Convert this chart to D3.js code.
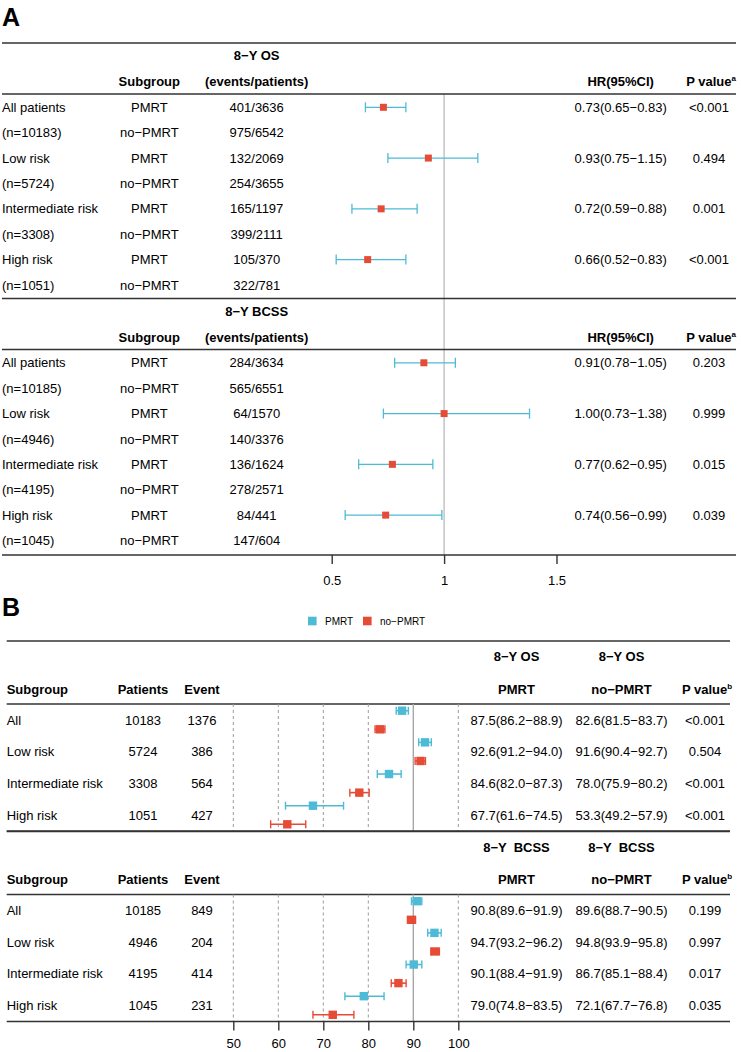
<!DOCTYPE html>
<head>
    <script src="https://cdn.jsdelivr.net/npm/d3@7"></script>
    <style>
        body { margin: 0; background: #fff; }
        text { font-family: "Liberation Sans", Arial, sans-serif; font-size: 13px; fill: #000; }
        .hd { font-weight: bold; }
        .rule { stroke: #333; stroke-width: 1.6; }
        .axis text { font-size: 13px; }
        .axis line { stroke: #333; stroke-width: 1.4; }
    </style>
</head>
<body>
<div id="chart"></div>
<script type="text/javascript">
    // ---- data: panel A (hazard ratios) ----
    var arms = ["PMRT", "no\u2212PMRT"];

    var osNames = ["All patients", "(n=10183)", "Low risk", "(n=5724)", "Intermediate risk", "(n=3308)", "High risk", "(n=1051)"];
    var osEvents = ["401/3636", "975/6542", "132/2069", "254/3655", "165/1197", "399/2111", "105/370", "322/781"];
    var osHR = [0.73, 0.93, 0.72, 0.66];
    var osLo = [0.65, 0.75, 0.59, 0.52];
    var osHi = [0.83, 1.15, 0.88, 0.83];
    var osP = ["<0.001", "0.494", "0.001", "<0.001"];

    var bcNames = ["All patients", "(n=10185)", "Low risk", "(n=4946)", "Intermediate risk", "(n=4195)", "High risk", "(n=1045)"];
    var bcEvents = ["284/3634", "565/6551", "64/1570", "140/3376", "136/1624", "278/2571", "84/441", "147/604"];
    var bcHR = [0.91, 1.00, 0.77, 0.74];
    var bcLo = [0.78, 0.73, 0.62, 0.56];
    var bcHi = [1.05, 1.38, 0.95, 0.99];
    var bcP = ["0.203", "0.999", "0.015", "0.039"];

    var hrTicks = [0.5, 1, 1.5];

    // ---- data: panel B (8-year rates) ----
    var bGroups = ["All", "Low risk", "Intermediate risk", "High risk"];

    var bOsPatients = ["10183", "5724", "3308", "1051"];
    var bOsEvents = ["1376", "386", "564", "427"];
    var bOsPm = [87.5, 92.6, 84.6, 67.7];
    var bOsPmLo = [86.2, 91.2, 82.0, 61.6];
    var bOsPmHi = [88.9, 94.0, 87.3, 74.5];
    var bOsNo = [82.6, 91.6, 78.0, 62.0];      // high risk point as drawn
    var bOsNoLo = [81.5, 90.4, 75.9, 58.3];
    var bOsNoHi = [83.7, 92.7, 80.2, 66.1];
    var bOsPmText = ["87.5(86.2\u221288.9)", "92.6(91.2\u221294.0)", "84.6(82.0\u221287.3)", "67.7(61.6\u221274.5)"];
    var bOsNoText = ["82.6(81.5\u221283.7)", "91.6(90.4\u221292.7)", "78.0(75.9\u221280.2)", "53.3(49.2\u221257.9)"];
    var bOsP = ["<0.001", "0.504", "<0.001", "<0.001"];

    var bBcPatients = ["10185", "4946", "4195", "1045"];
    var bBcEvents = ["849", "204", "414", "231"];
    var bBcPm = [90.8, 94.7, 90.1, 79.0];
    var bBcPmLo = [89.6, 93.2, 88.4, 74.8];
    var bBcPmHi = [91.9, 96.2, 91.9, 83.5];
    var bBcNo = [89.6, 94.8, 86.7, 72.1];
    var bBcNoLo = [88.7, 93.9, 85.1, 67.7];
    var bBcNoHi = [90.5, 95.8, 88.4, 76.8];
    var bBcPmText = ["90.8(89.6\u221291.9)", "94.7(93.2\u221296.2)", "90.1(88.4\u221291.9)", "79.0(74.8\u221283.5)"];
    var bBcNoText = ["89.6(88.7\u221290.5)", "94.8(93.9\u221295.8)", "86.7(85.1\u221288.4)", "72.1(67.7\u221276.8)"];
    var bBcP = ["0.199", "0.997", "0.017", "0.035"];

    var rateTicks = [50, 60, 70, 80, 90, 100];

    var blue = "#4DBBD5", red = "#E64B35";

    var svg = d3.select("#chart").append("svg")
        .attr("width", 741)
        .attr("height", 1052);

    function txt(g, x, y, s, anchor, cls) {
        return g.append("text")
            .attr("x", x).attr("y", y).attr("dy", "0.35em")
            .attr("text-anchor", anchor || "middle")
            .attr("class", cls || null)
            .style("white-space", "pre")
            .text(s);
    }

    function hline(g, x1, x2, y) {
        g.append("line").attr("class", "rule")
            .attr("x1", x1).attr("x2", x2).attr("y1", y).attr("y2", y);
    }

    function pvalHeader(g, x, y, sup) {
        var t = g.append("text").attr("x", x).attr("y", y).attr("dy", "0.35em")
            .attr("text-anchor", "middle").attr("class", "hd");
        t.append("tspan").text("P value");
        t.append("tspan").attr("dy", -5).style("font-size", "8px").text(sup);
    }

    // ================= Panel A =================
    var xA = d3.scaleLinear().domain([0.5, 1.5]).range([331.7, 556.5]);
    var gA = svg.append("g");

    gA.append("text").attr("x", 2).attr("y", 26)
        .style("font-size", "25px").style("font-weight", "bold").text("A");

    // reference line at HR = 1
    gA.append("line")
        .attr("x1", xA(1)).attr("x2", xA(1))
        .attr("y1", 94).attr("y2", 555)
        .attr("stroke", "#c8c8c8").attr("stroke-width", 1.6);

    function drawHR(top, title, names, events, hr, lo, hi, pv) {
        var g = gA.append("g");
        var y = d3.scaleLinear().domain([0, 7]).range([top + 64.3, top + 242]);
        hline(g, 2, 736, top);
        txt(g, 256.7, top + 12.7, title, "middle", "hd");
        txt(g, 149.3, top + 38.7, "Subgroup", "middle", "hd");
        txt(g, 256.7, top + 38.7, "(events/patients)", "middle", "hd");
        txt(g, 620.7, top + 38.7, "HR(95%CI)", "middle", "hd");
        pvalHeader(g, 711, top + 38.7, "a");
        hline(g, 2, 736, top + 51);

        names.forEach(function (d, i) {
            txt(g, 2, y(i), d, "start");
            txt(g, 149.3, y(i), arms[i % 2]);
            txt(g, 256.7, y(i), events[i]);
        });

        var rows = hr.map(function (d, i) {
            return {hr: d, lo: lo[i], hi: hi[i], p: pv[i], yy: y(i * 2)};
        });
        var r = g.selectAll("g.hr").data(rows).enter().append("g").attr("class", "hr");
        r.append("line")
            .attr("x1", function (d) { return xA(d.lo); })
            .attr("x2", function (d) { return xA(d.hi); })
            .attr("y1", function (d) { return d.yy; })
            .attr("y2", function (d) { return d.yy; })
            .attr("stroke", blue).attr("stroke-width", 1.3);
        ["lo", "hi"].forEach(function (k) {
            r.append("line")
                .attr("x1", function (d) { return xA(d[k]); })
                .attr("x2", function (d) { return xA(d[k]); })
                .attr("y1", function (d) { return d.yy - 5; })
                .attr("y2", function (d) { return d.yy + 5; })
                .attr("stroke", blue).attr("stroke-width", 1.3);
        });
        r.append("rect")
            .attr("x", function (d) { return xA(d.hr) - 3.5; })
            .attr("y", function (d) { return d.yy - 3.5; })
            .attr("width", 7).attr("height", 7)
            .attr("fill", red);
        r.append("text")
            .attr("x", 620.7).attr("dy", "0.35em").attr("text-anchor", "middle")
            .attr("y", function (d) { return d.yy; })
            .text(function (d) {
                return d.hr.toFixed(2) + "(" + d.lo.toFixed(2) + "\u2212" + d.hi.toFixed(2) + ")";
            });
        r.append("text")
            .attr("x", 709).attr("dy", "0.35em").attr("text-anchor", "middle")
            .attr("y", function (d) { return d.yy; })
            .text(function (d) { return d.p; });
    }

    drawHR(43, "8\u2212Y OS", osNames, osEvents, osHR, osLo, osHi, osP);
    drawHR(298.5, "8\u2212Y BCSS", bcNames, bcEvents, bcHR, bcLo, bcHi, bcP);

    // axis A
    hline(gA, 2, 736, 555);
    var axA = gA.append("g").attr("class", "axis")
        .attr("transform", "translate(0,555)")
        .call(d3.axisBottom(xA).tickValues(hrTicks).tickSize(9).tickPadding(12)
            .tickFormat(function (d) { return d; }));
    axA.select(".domain").remove();

    // ================= Panel B =================
    var xB = d3.scaleLinear().domain([50, 100]).range([233.3, 458.3]);
    var gB = svg.append("g");

    gB.append("text").attr("x", 2).attr("y", 616)
        .style("font-size", "25px").style("font-weight", "bold").text("B");

    // legend
    var leg = gB.append("g").attr("transform", "translate(308,621)");
    [["PMRT", blue, 0], ["no\u2212PMRT", red, 55]].forEach(function (d) {
        leg.append("rect").attr("x", d[2]).attr("y", -4.3).attr("width", 8.6).attr("height", 8.6).attr("fill", d[1]);
        leg.append("text").attr("x", d[2] + 17).attr("dy", "0.35em").style("font-size", "10px").text(d[0]);
    });

    function drawRates(top, title, patients, events, pm, pmLo, pmHi, no, noLo, noHi, pmText, noText, pv) {
        var g = gB.append("g");
        var y = d3.scaleLinear().domain([0, 3]).range([top + 79, top + 174]);
        var bottom = top + 190;
        hline(g, 6.7, 730, top);
        txt(g, 516.5, top + 15.7, title, "middle", "hd");
        txt(g, 621.5, top + 15.7, title, "middle", "hd");
        txt(g, 6.7, top + 48, "Subgroup", "start", "hd");
        txt(g, 143, top + 48, "Patients", "middle", "hd");
        txt(g, 202, top + 48, "Event", "middle", "hd");
        txt(g, 516.5, top + 48, "PMRT", "middle", "hd");
        txt(g, 621.5, top + 48, "no\u2212PMRT", "middle", "hd");
        pvalHeader(g, 707, top + 48, "b");
        hline(g, 6.7, 730, top + 63);

        // grid
        g.selectAll("line.grid").data(rateTicks).enter().append("line")
            .attr("class", "grid")
            .attr("x1", function (d) { return xB(d); })
            .attr("x2", function (d) { return xB(d); })
            .attr("y1", top + 63).attr("y2", bottom)
            .attr("stroke", function (d) { return d === 90 ? "#a8a8a8" : "#9a9a9a"; })
            .attr("stroke-width", function (d) { return d === 90 ? 1.4 : 1; })
            .attr("stroke-dasharray", function (d) { return d === 90 ? null : "3,3"; });

        bGroups.forEach(function (d, i) {
            txt(g, 6.7, y(i), d, "start");
            txt(g, 143, y(i), patients[i]);
            txt(g, 202, y(i), events[i]);
            txt(g, 516.5, y(i), pmText[i]);
            txt(g, 621.5, y(i), noText[i]);
            txt(g, 705, y(i), pv[i]);
        });

        var series = [
            {v: pm, lo: pmLo, hi: pmHi, c: blue, off: -9.3},
            {v: no, lo: noLo, hi: noHi, c: red, off: 9.3}
        ];
        series.forEach(function (s) {
            var pts = s.v.map(function (d, i) {
                return {v: d, lo: s.lo[i], hi: s.hi[i], yy: y(i) + s.off};
            });
            var p = g.selectAll(null).data(pts).enter().append("g");
            p.append("line")
                .attr("x1", function (d) { return xB(d.lo); })
                .attr("x2", function (d) { return xB(d.hi); })
                .attr("y1", function (d) { return d.yy; })
                .attr("y2", function (d) { return d.yy; })
                .attr("stroke", s.c).attr("stroke-width", 1.6);
            ["lo", "hi"].forEach(function (k) {
                p.append("line")
                    .attr("x1", function (d) { return xB(d[k]); })
                    .attr("x2", function (d) { return xB(d[k]); })
                    .attr("y1", function (d) { return d.yy - 4; })
                    .attr("y2", function (d) { return d.yy + 4; })
                    .attr("stroke", s.c).attr("stroke-width", 1.4);
            });
            p.append("rect")
                .attr("x", function (d) { return xB(d.v) - 4.2; })
                .attr("y", function (d) { return d.yy - 4.2; })
                .attr("width", 8.4).attr("height", 8.4)
                .attr("fill", s.c);
        });

        hline(g, 6.7, 730, bottom);
        return bottom;
    }

    drawRates(641, "8\u2212Y OS", bOsPatients, bOsEvents, bOsPm, bOsPmLo, bOsPmHi,
        bOsNo, bOsNoLo, bOsNoHi, bOsPmText, bOsNoText, bOsP);
    var bBottom = drawRates(831.5, "8\u2212Y  BCSS", bBcPatients, bBcEvents, bBcPm, bBcPmLo, bBcPmHi,
        bBcNo, bBcNoLo, bBcNoHi, bBcPmText, bBcNoText, bBcP);

    // axis B (labels kept just inside the bottom edge)
    var axB = gB.append("g").attr("class", "axis")
        .attr("transform", "translate(0," + bBottom + ")")
        .call(d3.axisBottom(xB).tickValues(rateTicks).tickSize(9).tickPadding(8));
    axB.select(".domain").remove();
</script>
</body>
</html>
